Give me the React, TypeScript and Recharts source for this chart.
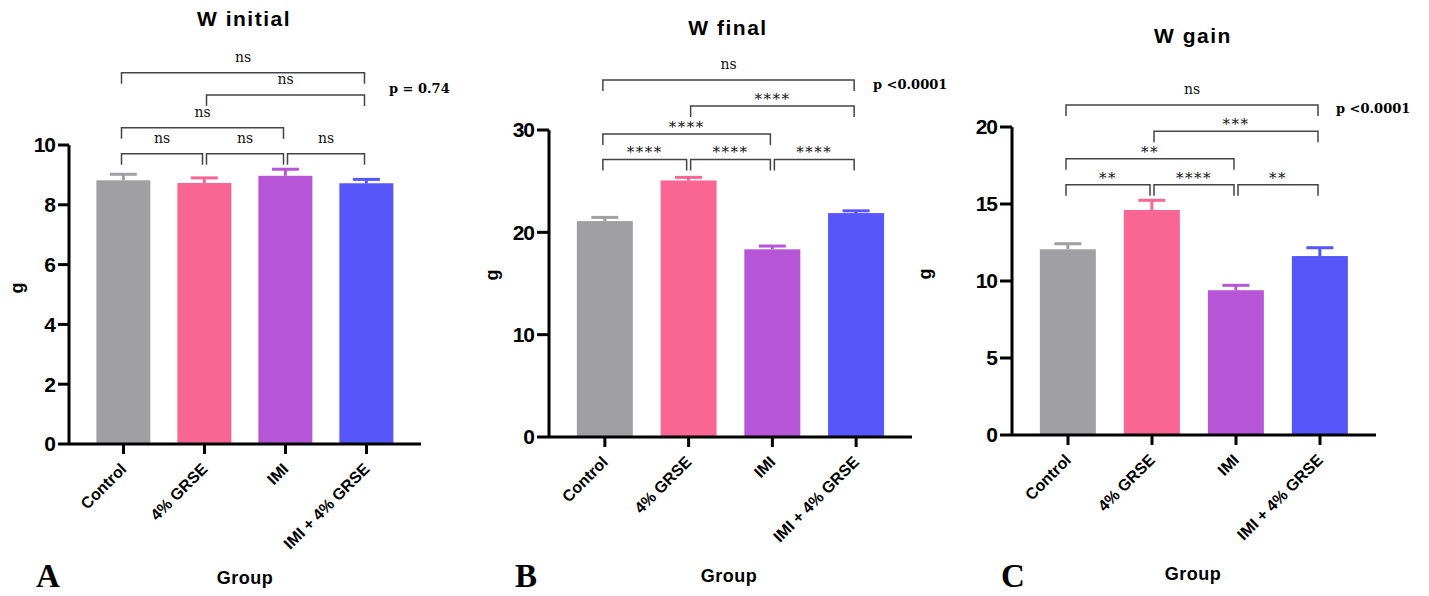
import React from 'react';
import { BarChart, Bar, XAxis, YAxis, ReferenceLine } from 'recharts';

const GROUPS = ['Control', '4% GRSE', 'IMI', 'IMI + 4% GRSE'];
const COLORS = ['#a09fa4', '#f96693', '#b655d6', '#5756f9'];

// mean and upper SEM
const INITIAL_MEAN = [8.82, 8.73, 8.97, 8.72];
const INITIAL_ERR = [0.2, 0.17, 0.22, 0.13];
const FINAL_MEAN = [21.1, 25.07, 18.34, 21.88];
const FINAL_ERR = [0.36, 0.3, 0.32, 0.22];
const GAIN_MEAN = [12.06, 14.61, 9.4, 11.62];
const GAIN_ERR = [0.36, 0.63, 0.32, 0.54];

const INITIAL_TICKS = [0, 2, 4, 6, 8, 10];
const FINAL_TICKS = [0, 10, 20, 30];
const GAIN_TICKS = [0, 5, 10, 15, 20];

// comparisons: [from group, to group, bracket height (g), label]
type Bracket = [number, number, number, string];
const INITIAL_BRACKETS: Bracket[] = [
  [0, 1, 9.71, 'ns'],
  [1, 2, 9.71, 'ns'],
  [2, 3, 9.71, 'ns'],
  [0, 2, 10.58, 'ns'],
  [1, 3, 11.67, 'ns'],
  [0, 3, 12.42, 'ns'],
];
const FINAL_BRACKETS: Bracket[] = [
  [0, 1, 27.12, '****'],
  [1, 2, 27.12, '****'],
  [2, 3, 27.12, '****'],
  [0, 2, 29.62, '****'],
  [1, 3, 32.35, '****'],
  [0, 3, 34.89, 'ns'],
];
const GAIN_BRACKETS: Bracket[] = [
  [0, 1, 16.25, '**'],
  [1, 2, 16.25, '****'],
  [2, 3, 16.25, '**'],
  [0, 2, 17.94, '**'],
  [1, 3, 19.72, '***'],
  [0, 3, 21.43, 'ns'],
];

const SANS = '"Liberation Sans", Arial, sans-serif';
const SERIF = '"DejaVu Serif", Georgia, serif';
const TIMES = '"Liberation Serif", "Times New Roman", serif';

const rows = (mean: number[], err: number[]) =>
  GROUPS.map((name, i) => ({ name, mean: mean[i], err: err[i] }));

// bar with an upper-only error bar in the bar's own colour
const BarWithError = (props: any) => {
  const { x, y, width, height, payload } = props;
  const color = COLORS[GROUPS.indexOf(payload.name)];
  const perUnit = payload.mean ? height / payload.mean : 0;
  const top = y - payload.err * perUnit;
  const cx = x + width / 2;
  return (
    <g>
      <rect x={x} y={y} width={width} height={height} fill={color} />
      <line x1={cx} y1={y} x2={cx} y2={top} stroke={color} strokeWidth={3} />
      <line x1={cx - 13.5} y1={top} x2={cx + 13.5} y2={top} stroke={color} strokeWidth={3} />
    </g>
  );
};

const bracketShape = (from: number, label: string) => (props: any) => {
  const { x1, x2, y1 } = props;
  const l = x1 + (from > 0 ? 2 : -2);
  const r = x2 - 2;
  const ns = label === 'ns';
  return (
    <g>
      <path
        d={`M${l},${y1 + 11}L${l},${y1}L${r},${y1}L${r},${y1 + 11}`}
        fill="none"
        stroke="#444"
        strokeWidth={1.5}
      />
      <text
        x={(l + r) / 2}
        y={ns ? y1 - 11 : y1 - 2}
        textAnchor="middle"
        fontFamily={SERIF}
        fontSize={ns ? 14 : 15}
        letterSpacing={ns ? 0 : 1.5}
        fill="#111"
      >
        {label}
      </text>
    </g>
  );
};

const GroupTick = (props: any) => {
  const { x, y, payload } = props;
  const tx = x + 4;
  const ty = y + 14;
  return (
    <text
      x={tx}
      y={ty}
      transform={`rotate(-45 ${tx} ${ty})`}
      textAnchor="end"
      fontFamily={SANS}
      fontWeight={700}
      fontSize={16}
      fill="#000"
    >
      {payload.value}
    </text>
  );
};

interface PanelProps {
  left: number;
  width: number;
  margin: { top: number; right: number; bottom: number; left: number };
  yWidth: number;
  yTickSize: number;
  mean: number[];
  err: number[];
  ticks: number[];
  brackets: Bracket[];
}

const Panel: React.FC<PanelProps> = ({ left, width, margin, yWidth, yTickSize, mean, err, ticks, brackets }) => (
  <div style={{ position: 'absolute', left, top: 0 }}>
    <BarChart width={width} height={596} data={rows(mean, err)} margin={margin} barCategoryGap="16.5%">
      <XAxis
        dataKey="name"
        interval={0}
        height={100}
        padding={{ left: 14, right: 14 }}
        tickSize={10}
        tickMargin={2}
        axisLine={{ stroke: '#000', strokeWidth: 3 }}
        tickLine={{ stroke: '#000', strokeWidth: 3 }}
        tick={<GroupTick />}
      />
      <YAxis
        width={yWidth}
        domain={[ticks[0], ticks[ticks.length - 1]]}
        ticks={ticks}
        interval={0}
        tickSize={yTickSize}
        tickMargin={3}
        axisLine={{ stroke: '#000', strokeWidth: 3 }}
        tickLine={{ stroke: '#000', strokeWidth: 3 }}
        tick={{ fill: '#000', fontSize: 21, fontWeight: 700, fontFamily: SANS, letterSpacing: -1 }}
      />
      <Bar dataKey="mean" shape={<BarWithError />} isAnimationActive={false} />
      {brackets.map(([from, to, level, label], i) => (
        <ReferenceLine
          key={i}
          ifOverflow="visible"
          segment={[
            { x: GROUPS[from], y: level },
            { x: GROUPS[to], y: level },
          ]}
          shape={bracketShape(from, label)}
        />
      ))}
    </BarChart>
  </div>
);

const Txt: React.FC<{ x: number; y: number; size: number; serif?: boolean; anchor?: string; spacing?: number; rotate?: boolean; children: React.ReactNode }> = ({
  x, y, size, serif, anchor = 'start', spacing = 0, rotate, children,
}) => (
  <text
    x={x}
    y={y}
    fontSize={size}
    fontWeight={700}
    fontFamily={serif ? SERIF : SANS}
    textAnchor={anchor as any}
    letterSpacing={spacing}
    transform={rotate ? `rotate(-90 ${x} ${y})` : undefined}
    fill="#000"
  >
    {children}
  </text>
);

export default function App() {
  return (
    <div style={{ position: 'absolute', left: 0, top: 0, width: 1429, height: 596, background: '#fff' }}>
      <Panel
        left={0}
        width={470}
        margin={{ top: 145, right: 49, bottom: 52, left: 10 }}
        yWidth={59}
        yTickSize={11}
        mean={INITIAL_MEAN}
        err={INITIAL_ERR}
        ticks={INITIAL_TICKS}
        brackets={INITIAL_BRACKETS}
      />
      <Panel
        left={480}
        width={480}
        margin={{ top: 130, right: 48, bottom: 59, left: 10 }}
        yWidth={59}
        yTickSize={12}
        mean={FINAL_MEAN}
        err={FINAL_ERR}
        ticks={FINAL_TICKS}
        brackets={FINAL_BRACKETS}
      />
      <Panel
        left={960}
        width={469}
        margin={{ top: 127, right: 53, bottom: 61, left: 7 }}
        yWidth={45}
        yTickSize={12}
        mean={GAIN_MEAN}
        err={GAIN_ERR}
        ticks={GAIN_TICKS}
        brackets={GAIN_BRACKETS}
      />
      <svg width={1429} height={596} style={{ position: 'absolute', left: 0, top: 0, pointerEvents: 'none' }}>
        <Txt x={244} y={26} size={21} anchor="middle" spacing={1.5}>W initial</Txt>
        <Txt x={728} y={35} size={21} anchor="middle" spacing={1.5}>W final</Txt>
        <Txt x={1193} y={43} size={21} anchor="middle" spacing={1.5}>W gain</Txt>

        <Txt x={389} y={93} size={13} serif>p = 0.74</Txt>
        <Txt x={873} y={89} size={13} serif>p &lt;0.0001</Txt>
        <Txt x={1336} y={113} size={13} serif>p &lt;0.0001</Txt>

        <Txt x={23} y={288} size={18} anchor="middle" rotate>g</Txt>
        <Txt x={498} y={275} size={18} anchor="middle" rotate>g</Txt>
        <Txt x={931} y={274} size={18} anchor="middle" rotate>g</Txt>

        <Txt x={245} y={584} size={18} anchor="middle" spacing={0.5}>Group</Txt>
        <Txt x={729} y={582} size={18} anchor="middle" spacing={0.5}>Group</Txt>
        <Txt x={1193} y={580} size={18} anchor="middle" spacing={0.5}>Group</Txt>

        <text x={36} y={587} fontSize={33} fontWeight={700} fontFamily={TIMES}>A</text>
        <text x={515} y={587} fontSize={33} fontWeight={700} fontFamily={TIMES}>B</text>
        <text x={1001} y={587} fontSize={33} fontWeight={700} fontFamily={TIMES}>C</text>
      </svg>
    </div>
  );
}
